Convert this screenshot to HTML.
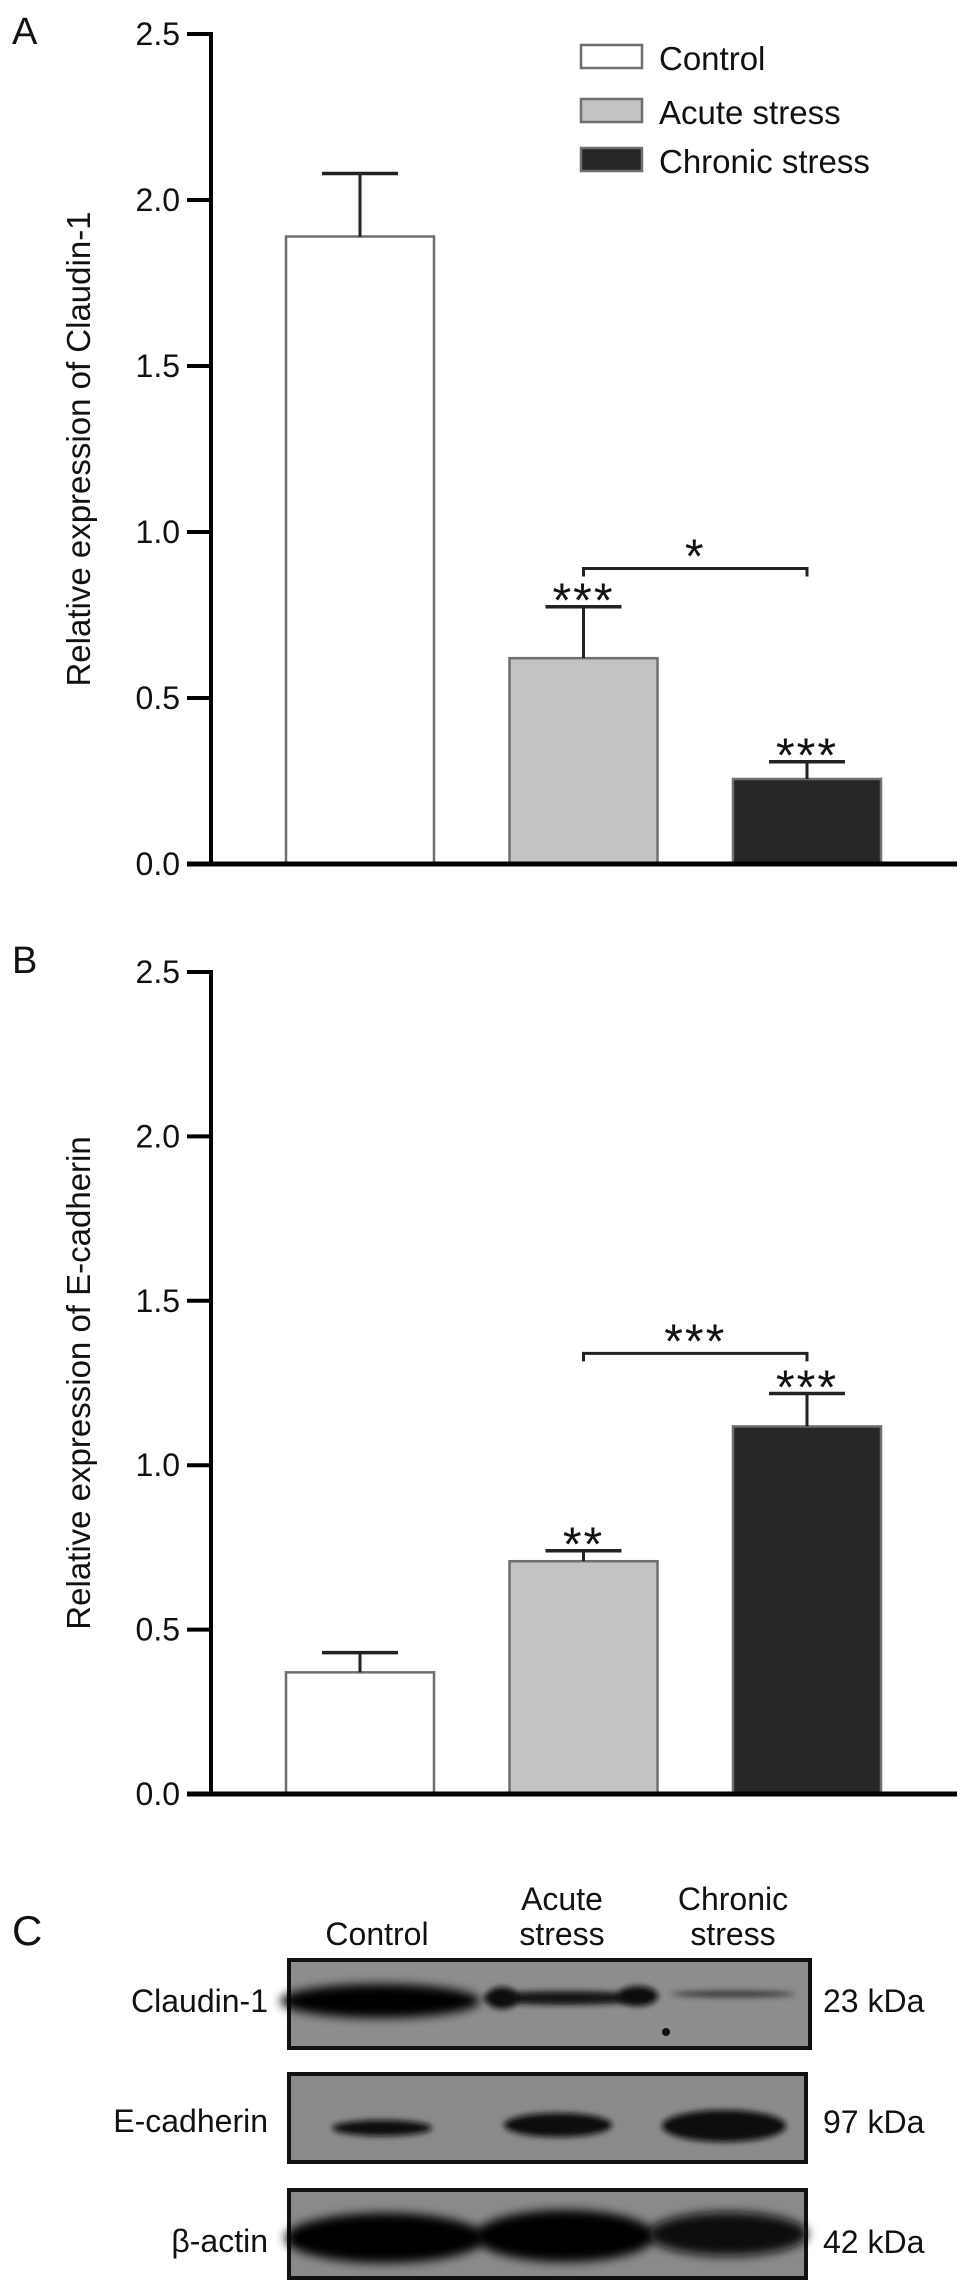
<!DOCTYPE html>
<html><head><meta charset="utf-8"><style>
html,body{margin:0;padding:0;background:#fff}
svg{display:block}
text{font-family:"Liberation Sans",Arial,sans-serif;fill:#111}
</style></head><body>
<svg id="fig" width="969" height="2293" viewBox="0 0 969 2293">
<defs>
<filter id="blur" x="-20%" y="-100%" width="140%" height="300%"><feGaussianBlur stdDeviation="5"/></filter>
<filter id="blur2" x="-20%" y="-100%" width="140%" height="300%"><feGaussianBlur stdDeviation="3"/></filter>
</defs>
<g id="chartA"></g>
<g id="chartB"></g>
<g id="blot">
  <text x="12" y="1945" font-size="42">C</text>
  <text x="377" y="1945" font-size="32" text-anchor="middle">Control</text>
  <text x="562" y="1910" font-size="32" text-anchor="middle">Acute</text>
  <text x="562" y="1945" font-size="32" text-anchor="middle">stress</text>
  <text x="733" y="1910" font-size="32" text-anchor="middle">Chronic</text>
  <text x="733" y="1945" font-size="32" text-anchor="middle">stress</text>

  <rect x="289" y="1960" width="521" height="88" fill="#8d8d8d" stroke="#111" stroke-width="4"/>
  <ellipse cx="380" cy="2001" rx="100" ry="17" fill="#050505" filter="url(#blur)"/>
  <ellipse cx="565" cy="1998" rx="82" ry="7" fill="#151515" filter="url(#blur2)"/>
  <ellipse cx="502" cy="1998" rx="16" ry="11" fill="#111" filter="url(#blur2)"/>
  <ellipse cx="638" cy="1996" rx="20" ry="10" fill="#111" filter="url(#blur2)"/>
  <ellipse cx="733" cy="1994" rx="62" ry="3" fill="#333" filter="url(#blur2)"/>
  <circle cx="666" cy="2032" r="4" fill="#111"/>
  <text x="268" y="2012" font-size="32" text-anchor="end">Claudin-1</text>
  <text x="823" y="2012" font-size="32">23 kDa</text>

  <rect x="289" y="2074" width="517" height="88" fill="#8a8a8a" stroke="#111" stroke-width="4"/>
  <ellipse cx="382" cy="2128" rx="50" ry="8" fill="#111" filter="url(#blur2)"/>
  <ellipse cx="558" cy="2125" rx="54" ry="12" fill="#0d0d0d" filter="url(#blur2)"/>
  <ellipse cx="724" cy="2126" rx="62" ry="16" fill="#080808" filter="url(#blur2)"/>
  <text x="268" y="2132" font-size="32" text-anchor="end">E-cadherin</text>
  <text x="823" y="2133" font-size="32">97 kDa</text>

  <rect x="289" y="2190" width="517" height="88" fill="#8a8a8a" stroke="#111" stroke-width="4"/>
  <ellipse cx="385" cy="2238" rx="100" ry="25" fill="#060606" filter="url(#blur)"/>
  <ellipse cx="565" cy="2236" rx="90" ry="26" fill="#040404" filter="url(#blur)"/>
  <ellipse cx="728" cy="2234" rx="80" ry="22" fill="#070707" filter="url(#blur)"/>
  <text x="268" y="2252" font-size="32" text-anchor="end">β-actin</text>
  <text x="823" y="2253" font-size="32">42 kDa</text>
</g>
</svg>
<script>
var NS='http://www.w3.org/2000/svg';
var categories=['Control','Acute stress','Chronic stress'];
var fills=['#ffffff','#c3c3c3','#262626'];
var tickValues=[0,0.5,1.0,1.5,2.0,2.5];
var tickLabels=['0.0','0.5','1.0','1.5','2.0','2.5'];
var claudinMeans=[1.89,0.62,0.256];
var claudinErrors=[0.19,0.155,0.052];
var claudinStars=['','***','***'];
var claudinBracket={from:1,to:2,level:0.89,label:'*'};
var ecadMeans=[0.37,0.708,1.118];
var ecadErrors=[0.06,0.032,0.10];
var ecadStars=['','**','***'];
var ecadBracket={from:1,to:2,level:1.34,label:'***'};

function mk(parent,tag,attrs){var e=document.createElementNS(NS,tag);for(var k in attrs)e.setAttribute(k,attrs[k]);parent.appendChild(e);return e;}

function drawChart(g,cfg){
  var y0=cfg.y0,y1=cfg.y1,axX=211,xEnd=957;
  function ys(v){return y0-(v/2.5)*(y0-y1);}
  function xc(i){return 360+i*223.5;}
  var bw=148;
  cfg.means.forEach(function(m,i){
    var r=mk(g,'rect',{x:xc(i)-bw/2,y:ys(m),width:bw,height:y0-ys(m),fill:fills[i],stroke:'#6f6f6f','stroke-width':2.5});
    
    
    var top=ys(m+cfg.errs[i]);
    var l=mk(g,'line',{x1:xc(i),x2:xc(i),y1:ys(m),y2:top,stroke:'#222','stroke-width':3});
    
    
    mk(g,'line',{x1:xc(i)-38,x2:xc(i)+38,y1:top,y2:top,stroke:'#222','stroke-width':3.5});
    if(cfg.stars[i]){
      var t=mk(g,'text',{x:xc(i),y:top+10,'font-size':48,'text-anchor':'middle','letter-spacing':'2'});
      t.textContent=cfg.stars[i];
      
      
    }
  });
  var b=cfg.bracket,by=ys(b.level);
  var p=mk(g,'path',{d:'M'+xc(b.from)+' '+(by+8)+'V'+by+'H'+xc(b.to)+'V'+(by+8),fill:'none',stroke:'#222','stroke-width':3});
  
  
  var bt=mk(g,'text',{x:(xc(b.from)+xc(b.to))/2,y:by+4,'font-size':48,'text-anchor':'middle','letter-spacing':'2'});
  bt.textContent=b.label;
  
  
  var ya=mk(g,'line',{x1:axX,x2:axX,y1:y1-2,y2:y0+2,stroke:'#000','stroke-width':4});
  
  
  var xa=mk(g,'line',{x1:187,x2:xEnd,y1:y0,y2:y0,stroke:'#000','stroke-width':5});
  
  
  tickValues.forEach(function(v,i){
    mk(g,'line',{x1:187,x2:axX,y1:ys(v),y2:ys(v),stroke:'#000','stroke-width':4});
    var t=mk(g,'text',{x:180,y:ys(v)+11,'font-size':32,'text-anchor':'end'});
    t.textContent=tickLabels[i];
    
    
  });
  var cy=(y0+y1)/2;
  var tt=mk(g,'text',{x:90,y:cy,'font-size':33,'text-anchor':'middle',transform:'rotate(-90 90 '+cy+')'});
  tt.textContent=cfg.title;
  
  
  var pl=mk(g,'text',{x:12,y:cfg.labelY,'font-size':38});
  pl.textContent=cfg.panel;
  
  
}
var gA=document.getElementById('chartA'),gB=document.getElementById('chartB');
drawChart(gA,{key:'a',y0:864,y1:34,means:claudinMeans,errs:claudinErrors,stars:claudinStars,bracket:claudinBracket,title:'Relative expression of Claudin-1',panel:'A',labelY:44});
drawChart(gB,{key:'b',y0:1794,y1:972,means:ecadMeans,errs:ecadErrors,stars:ecadStars,bracket:ecadBracket,title:'Relative expression of E-cadherin',panel:'B',labelY:973});
var legY=[45,99,148];
categories.forEach(function(c,i){
  var r=mk(gA,'rect',{x:581,y:legY[i],width:61,height:23,fill:fills[i],stroke:'#6f6f6f','stroke-width':2.5});
  
  
  var t=mk(gA,'text',{x:659,y:legY[i]+25,'font-size':33});
  t.textContent=c;
  
  
});
</script>
</body></html>
